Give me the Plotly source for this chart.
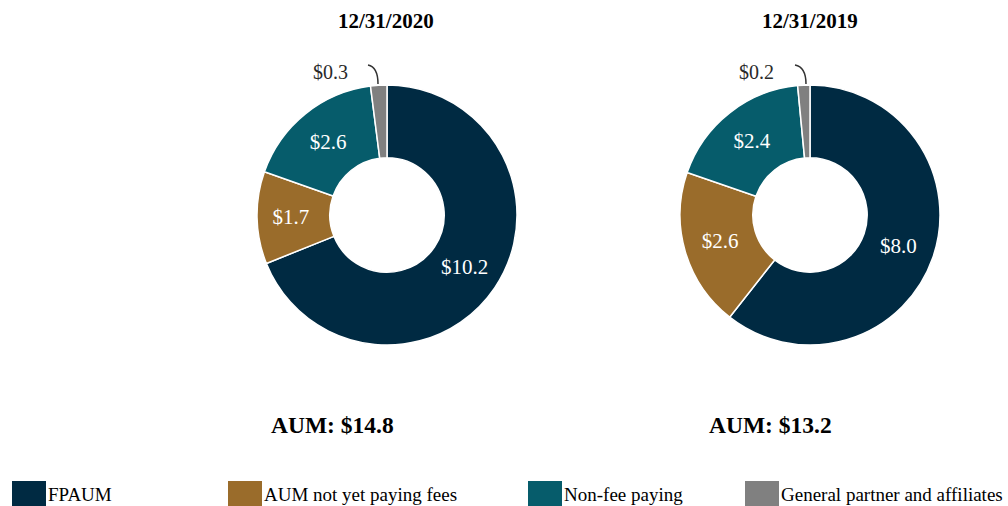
import plotly.graph_objects as go

categories = ["FPAUM", "AUM not yet paying fees", "Non-fee paying", "General partner and affiliates"]
values_2020 = [10.2, 1.7, 2.6, 0.3]
values_2019 = [8.0, 2.6, 2.4, 0.2]
titles = ["12/31/2020", "12/31/2019"]
totals = ["AUM: $14.8", "AUM: $13.2"]
colors = ["#002A42", "#9A6C2B", "#065C6B", "#808080"]

SERIF = "Liberation Serif, Times New Roman, serif"
W, H = 1008, 506

def px(x):
    return x / W

def py(y):
    return 1 - y / H

fig = go.Figure()
domains = [dict(x=[px(257), px(517)], y=[py(345), py(85)]),
           dict(x=[px(680), px(940)], y=[py(345), py(85)])]
for i, vals in enumerate([values_2020, values_2019]):
    texts = ["$%.1f" % v for v in vals[:3]] + [""]
    fig.add_trace(go.Pie(
        labels=categories, values=vals, hole=0.44, sort=False, direction="clockwise", rotation=0,
        marker=dict(colors=colors, line=dict(color="white", width=1.5)),
        text=texts, textinfo="text", textposition="inside", insidetextorientation="horizontal",
        insidetextfont=dict(color="white", size=21, family=SERIF),
        domain=domains[i], showlegend=False, hoverinfo="label+value",
    ))

annotations = []
title_x = [386, 810]
total_x = [332, 770]
small_x = [330, 756]
for i in range(2):
    annotations.append(dict(text="<b>%s</b>" % titles[i], x=px(title_x[i]), y=py(21), xref="paper", yref="paper",
                            xanchor="center", yanchor="middle",
                            showarrow=False, font=dict(size=21, family=SERIF, color="black")))
    annotations.append(dict(text="<b>%s</b>" % totals[i], x=px(total_x[i]), y=py(425), xref="paper", yref="paper",
                            xanchor="center", yanchor="middle",
                            showarrow=False, font=dict(size=23.5, family=SERIF, color="black")))
    v = [values_2020, values_2019][i][3]
    annotations.append(dict(text="$%.1f" % v, x=px(small_x[i]), y=py(72), xref="paper", yref="paper",
                            xanchor="center", yanchor="middle",
                            showarrow=False, font=dict(size=20, family=SERIF, color="#2a2a2a")))

shapes = []
for sx, ex in [(368, 378), (795, 806)]:
    shapes.append(dict(type="path", xref="paper", yref="paper",
                       path="M %f,%f Q %f,%f %f,%f" % (px(sx), py(65), px(ex), py(67), px(ex), py(84)),
                       line=dict(color="#333333", width=1.5)))

# manual legend
legend_x = [12, 228, 528, 745]
for cat, col, lx in zip(categories, colors, legend_x):
    shapes.append(dict(type="rect", xref="paper", yref="paper",
                       x0=px(lx), x1=px(lx + 34), y0=py(506), y1=py(481),
                       fillcolor=col, line=dict(width=0)))
    annotations.append(dict(text=cat, x=px(lx + 34), y=py(494), xref="paper", yref="paper",
                            xanchor="left", yanchor="middle", showarrow=False,
                            font=dict(size=19, family=SERIF, color="black")))

fig.update_layout(
    width=W, height=H, margin=dict(l=0, r=0, t=0, b=0),
    paper_bgcolor="white", plot_bgcolor="white",
    annotations=annotations, shapes=shapes, showlegend=False,
)

fig.write_html("out.html", config={"displayModeBar": False},
               post_script="document.body.style.margin='0';")
